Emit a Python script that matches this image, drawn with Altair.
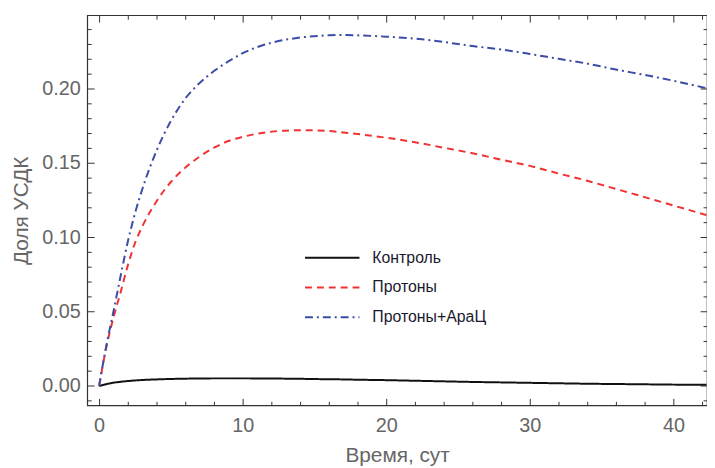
import altair as alt
import pandas as pd

# ---- data ----
t = [0, 0.5, 1, 1.5, 2, 2.5, 3, 4, 5, 6, 7, 8, 9, 10, 12, 14, 16, 17, 18, 20,
     22, 24, 26, 28, 30, 32, 34, 36, 38, 40, 42.3]
control = [0, 0.0012, 0.0022, 0.0028, 0.0033, 0.0037, 0.0040, 0.0044, 0.0047, 0.0049,
           0.0050, 0.0051, 0.0051, 0.0051, 0.0050, 0.0048, 0.0045, 0.0044, 0.0042, 0.0039,
           0.0035, 0.0031, 0.0027, 0.0024, 0.0021, 0.0018, 0.0015, 0.0013, 0.0011, 0.0009, 0.0008]
protons = [0, 0.026, 0.046, 0.063, 0.081, 0.096, 0.107, 0.124, 0.137, 0.1466,
           0.154, 0.160, 0.1645, 0.1673, 0.1708, 0.1718, 0.1712, 0.1702, 0.1692, 0.1667,
           0.1637, 0.1600, 0.1563, 0.1520, 0.1478, 0.1427, 0.1378, 0.1323, 0.1268, 0.1212, 0.1148]
protons_arac = [0, 0.027, 0.050, 0.074, 0.097, 0.116, 0.132, 0.158, 0.178, 0.193,
                0.2035, 0.2115, 0.218, 0.2235, 0.2305, 0.2340, 0.2355, 0.2358, 0.2355, 0.2346,
                0.2333, 0.2310, 0.2283, 0.2260, 0.2230, 0.2197, 0.2165, 0.2125, 0.2089, 0.2050, 0.2000]

series_names = ["Контроль", "Протоны", "Протоны+АраЦ"]
series_colors = ["#111111", "#f03232", "#3b4ca6"]
series_dashes = [[1, 0], [7, 5], [8, 4, 2, 4]]

x_major = [0, 10, 20, 30, 40]
x_minor = [2, 4, 6, 8, 12, 14, 16, 18, 22, 24, 26, 28, 32, 34, 36, 38, 42]
y_major = [0.0, 0.05, 0.10, 0.15, 0.20]
y_minor = [-0.01, 0.01, 0.02, 0.03, 0.04, 0.06, 0.07, 0.08, 0.09, 0.11, 0.12, 0.13,
           0.14, 0.16, 0.17, 0.18, 0.19, 0.21, 0.22, 0.23, 0.24]

x_title = "Время, сут"
y_title = "Доля УСДК"

rows = []
for name, vals in zip(series_names, [control, protons, protons_arac]):
    for ti, v in zip(t, vals):
        rows.append({"t": ti, "v": v, "series": name})
df = pd.DataFrame(rows)

xscale = alt.Scale(domain=[-0.83, 42.34], nice=False, zero=False)
yscale = alt.Scale(domain=[-0.013, 0.249], nice=False, zero=False)

FONT = "Liberation Sans"
TXT = "#666666"
TICK = "#333333"


def make_axis(values, orient, size, labels=False, title=None, fmt=None, **kw):
    args = dict(values=values, orient=orient, offset=-size, tickSize=size,
                domain=False, grid=False, tickColor=TICK, tickWidth=1,
                labels=labels, labelOverlap=False, labelFlush=False)
    if labels:
        args.update(labelFont=FONT, labelFontSize=20, labelColor=TXT)
    if fmt:
        args["format"] = fmt
    if title:
        args.update(title=title, titleFont=FONT, titleFontSize=21,
                    titleColor=TXT, titleFontWeight="normal")
    else:
        args["title"] = None
    args.update(kw)
    return alt.Axis(**args)


legend = alt.Legend(orient="none", legendX=219, legendY=237, title=None,
                    symbolType="stroke", symbolSize=3025, symbolStrokeWidth=2,
                    labelFont=FONT, labelFontSize=16, labelColor="#1a1a2e",
                    labelOffset=12, rowPadding=14, clipHeight=16)

lines = alt.Chart(df).mark_line(strokeWidth=2, interpolate="monotone").encode(
    x=alt.X("t:Q", scale=xscale,
            axis=make_axis(x_major, "bottom", 7, labels=True, title=x_title,
                           labelPadding=10, titlePadding=10)),
    y=alt.Y("v:Q", scale=yscale,
            axis=make_axis(y_major, "left", 7, labels=True, title=y_title, fmt=".2f",
                           labelPadding=7, titlePadding=10)),
    color=alt.Color("series:N", scale=alt.Scale(domain=series_names, range=series_colors),
                    legend=legend),
    strokeDash=alt.StrokeDash("series:N",
                              scale=alt.Scale(domain=series_names, range=series_dashes),
                              legend=legend),
)

minor = alt.Chart(df).mark_line(opacity=0).encode(
    x=alt.X("t:Q", scale=xscale, axis=make_axis(x_minor, "bottom", 4)),
    y=alt.Y("v:Q", scale=yscale, axis=make_axis(y_minor, "left", 4)),
)

top_major = alt.Chart(df).mark_line(opacity=0).encode(
    x=alt.X("t:Q", scale=xscale, axis=make_axis(x_major, "top", 7)),
    y=alt.Y("v:Q", scale=yscale, axis=make_axis(y_major, "right", 7)),
)

top_minor = alt.Chart(df).mark_line(opacity=0).encode(
    x=alt.X("t:Q", scale=xscale, axis=make_axis(x_minor, "top", 4)),
    y=alt.Y("v:Q", scale=yscale, axis=make_axis(y_minor, "right", 4)),
)

chart = alt.layer(lines, minor, top_major, top_minor).resolve_axis(
    x="independent", y="independent"
).properties(
    width=626, height=394,
    padding={"left": 80, "top": 5, "right": 0, "bottom": 60},
    autosize=alt.AutoSizeParams(type="none"),
    background="white",
).configure_view(stroke=TICK, strokeWidth=1.2)

chart.save("out.html", embed_options={"renderer": "svg", "actions": False})
